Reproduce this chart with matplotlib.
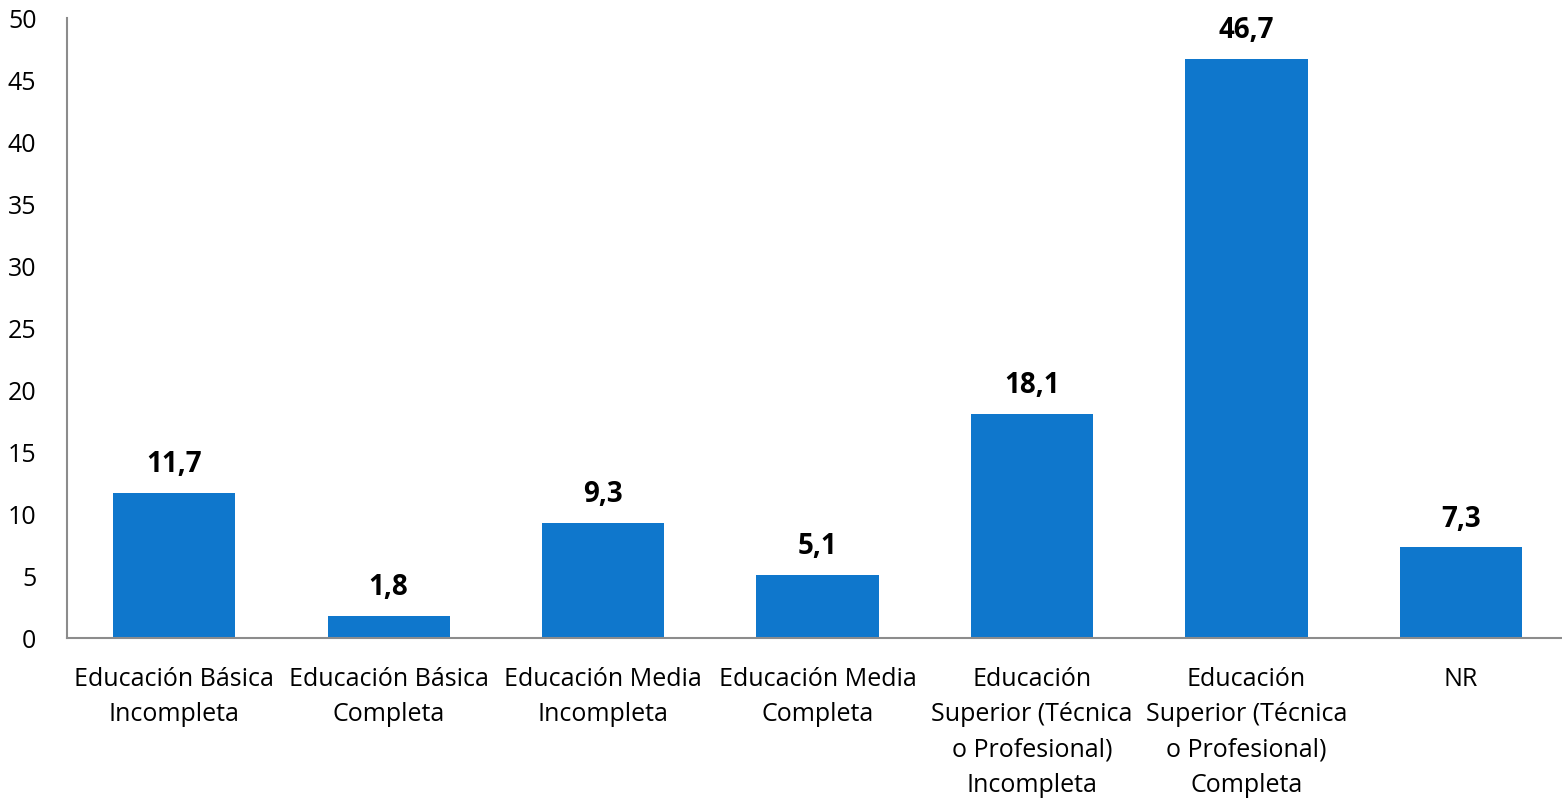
import matplotlib
matplotlib.use('Agg')
import matplotlib.pyplot as plt

categorias = ['Educación Básica\nIncompleta', 'Educación Básica\nCompleta',
              'Educación Media\nIncompleta', 'Educación Media\nCompleta',
              'Educación\nSuperior (Técnica\no Profesional)\nIncompleta',
              'Educación\nSuperior (Técnica\no Profesional)\nCompleta',
              'NR']
valores = [11.7, 1.8, 9.3, 5.1, 18.1, 46.7, 7.3]
yticks = [0, 5, 10, 15, 20, 25, 30, 35, 40, 45, 50]

plt.rcParams['font.family'] = ['Open Sans', 'DejaVu Sans']

fig = plt.figure(figsize=(15.62, 8), dpi=100)
ax = fig.add_axes([0.0429, 0.2025, 0.961, 0.775])

x = range(len(valores))
bars = ax.bar(x, valores, width=0.57, color='#0F77CC')

for b, v in zip(bars, valores):
    ax.text(b.get_x() + b.get_width() / 2, v + 1.1, f'{v:.1f}'.replace('.', ','),
            ha='center', va='bottom', fontsize=20, fontweight='bold')

ax.set_xlim(-0.5, 6.5)
ax.set_ylim(0, 50)
ax.set_yticks(yticks)
ax.set_xticks(list(x))
ax.set_xticklabels(categorias, fontsize=18, linespacing=1.54, va='top')
ax.tick_params(axis='y', labelsize=18, length=0, pad=22)
ax.tick_params(axis='x', length=0, pad=21)

for s in ['top', 'right']:
    ax.spines[s].set_visible(False)
for s in ['left', 'bottom']:
    ax.spines[s].set_color('#8c8c8c')
    ax.spines[s].set_linewidth(1.5)

fig.savefig('out.png', dpi=100)
